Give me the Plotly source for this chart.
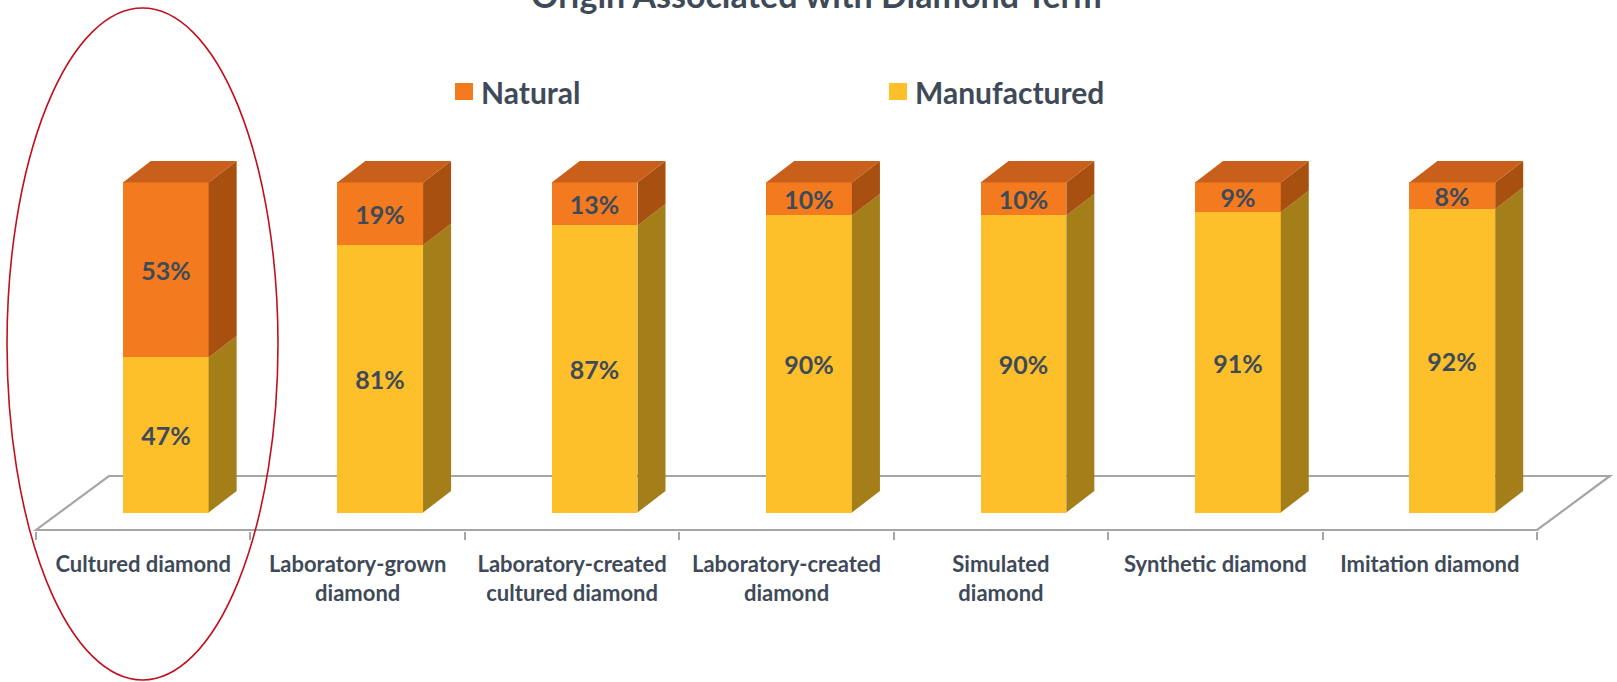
import plotly.graph_objects as go

# ---- data ----
categories = [
    "Cultured diamond",
    "Laboratory-grown<br>diamond",
    "Laboratory-created<br>cultured diamond",
    "Laboratory-created<br>diamond",
    "Simulated<br>diamond",
    "Synthetic diamond",
    "Imitation diamond",
]
natural = [53, 19, 13, 10, 10, 9, 8]
manufactured = [47, 81, 87, 90, 90, 91, 92]
series_names = ["Natural", "Manufactured"]
title_text = "Origin Associated with Diamond Term"

# ---- style ----
W, H = 1617, 682
MARGIN_B = 151
FONT = "Lato"
TEXT_COLOR = "#3F4A59"
NAT_FRONT, NAT_TOP, NAT_SIDE = "#F47A20", "#C8601B", "#A8500F"
MAN_FRONT, MAN_SIDE = "#FDC02B", "#A47E19"
FLOOR_COLOR = "#A6A6A6"

BAR_W, BAR_OFF = 0.40, -0.095      # front face width / offset within a category
DEPTH_X, DEPTH_Y = 0.1306, 6.5     # oblique depth of each bar
FLOOR_Y, FLOOR_DX, FLOOR_DY = -5.3, 0.34, 16.36
X_RANGE = [-0.668, 6.873]
Y_RANGE = [-5.606, 155.3]

xs = list(range(len(categories)))


def side_faces(bottoms, tops):
    px, py = [], []
    for i, b, t in zip(xs, bottoms, tops):
        x1 = i + BAR_OFF + BAR_W
        px += [x1, x1 + DEPTH_X, x1 + DEPTH_X, x1, x1, None]
        py += [b, b + DEPTH_Y, t + DEPTH_Y, t, b, None]
    return px, py


def top_faces(tops):
    px, py = [], []
    for i, t in zip(xs, tops):
        x0 = i + BAR_OFF
        x1 = x0 + BAR_W
        px += [x0, x0 + DEPTH_X, x1 + DEPTH_X, x1, x0, None]
        py += [t, t + DEPTH_Y, t + DEPTH_Y, t, t, None]
    return px, py


totals = [m + n for m, n in zip(manufactured, natural)]

fig = go.Figure()

# front faces (stacked bars)
label_font = dict(family=FONT, size=25, color=TEXT_COLOR, weight=700)
fig.add_trace(go.Bar(
    x=xs, y=manufactured, name=series_names[1], marker=dict(color=MAN_FRONT, line=dict(width=0)),
    width=BAR_W, offset=BAR_OFF, texttemplate="%{y}%", textposition="inside",
    insidetextanchor="middle", textangle=0, constraintext="none", textfont=label_font,
    showlegend=False, hoverinfo="skip",
))
fig.add_trace(go.Bar(
    x=xs, y=natural, name=series_names[0], marker=dict(color=NAT_FRONT, line=dict(width=0)),
    width=BAR_W, offset=BAR_OFF, texttemplate="%{y}%", textposition="inside",
    insidetextanchor="middle", textangle=0, constraintext="none", textfont=label_font,
    showlegend=False, hoverinfo="skip",
))

# side and top faces
sx, sy = side_faces([0] * len(xs), manufactured)
fig.add_trace(go.Scatter(x=sx, y=sy, mode="lines", fill="toself", fillcolor=MAN_SIDE,
                         line=dict(width=0, color=MAN_SIDE), showlegend=False, hoverinfo="skip"))
sx, sy = side_faces(manufactured, totals)
fig.add_trace(go.Scatter(x=sx, y=sy, mode="lines", fill="toself", fillcolor=NAT_SIDE,
                         line=dict(width=0, color=NAT_SIDE), showlegend=False, hoverinfo="skip"))
tx, ty = top_faces(totals)
fig.add_trace(go.Scatter(x=tx, y=ty, mode="lines", fill="toself", fillcolor=NAT_TOP,
                         line=dict(width=0, color=NAT_TOP), showlegend=False, hoverinfo="skip"))

# floor of the 3-D plot area, behind the bars
x_lo, x_hi = -0.5, len(xs) - 0.5
floor_path = (
    f"M {x_lo},{FLOOR_Y} L {x_hi},{FLOOR_Y} "
    f"L {x_hi + FLOOR_DX},{FLOOR_Y + FLOOR_DY} L {x_lo + FLOOR_DX},{FLOOR_Y + FLOOR_DY} Z"
)
fig.add_shape(type="path", path=floor_path, xref="x", yref="y", layer="below",
              line=dict(color=FLOOR_COLOR, width=2.2), fillcolor="white")

# legend
plot_h = H - MARGIN_B
legend_items = [(series_names[0], NAT_FRONT, 455), (series_names[1], MAN_FRONT, 889)]
for name, color, left in legend_items:
    fig.add_shape(type="rect", xref="paper", yref="paper",
                  x0=left / W, x1=(left + 18) / W,
                  y0=(plot_h - 100) / plot_h, y1=(plot_h - 83) / plot_h,
                  fillcolor=color, line=dict(width=0))
    fig.add_annotation(text=name, xref="paper", yref="paper",
                       x=(left + 24) / W, y=(plot_h - 91.5) / plot_h,
                       xanchor="left", yanchor="middle", showarrow=False,
                       font=dict(family=FONT, size=30, color=TEXT_COLOR, weight=700))

# chart title, sitting at the very top edge
fig.add_annotation(text=title_text, xref="paper", yref="paper",
                   x=816 / W, y=(plot_h + 5) / plot_h, xanchor="center", yanchor="middle",
                   showarrow=False,
                   font=dict(family=FONT, size=34, color=TEXT_COLOR, weight=700))

# highlight ring around the first category
fig.add_shape(type="circle", xref="paper", yref="paper",
              x0=7 / W, x1=278 / W, y0=(plot_h - 680) / plot_h, y1=(plot_h - 8) / plot_h,
              line=dict(color="#C0101E", width=1.6), fillcolor="rgba(0,0,0,0)")

fig.update_layout(
    width=W, height=H,
    margin=dict(l=0, r=0, t=0, b=MARGIN_B),
    paper_bgcolor="white", plot_bgcolor="white",
    barmode="stack", bargap=0,
    showlegend=False,
    xaxis=dict(
        range=X_RANGE, showgrid=False, zeroline=False, showline=False,
        tickmode="array", tickvals=xs, ticktext=categories, ticks="", ticklen=0,
        ticklabelstandoff=18,
        tickfont=dict(family=FONT, size=22, color=TEXT_COLOR, weight=700),
        minor=dict(tickmode="array", tickvals=[i - 0.5 for i in range(len(xs) + 1)],
                   ticks="outside", ticklen=8, tickwidth=2, tickcolor=FLOOR_COLOR),
        fixedrange=True,
    ),
    yaxis=dict(range=Y_RANGE, visible=False, fixedrange=True),
)

fig.write_html("out.html")
